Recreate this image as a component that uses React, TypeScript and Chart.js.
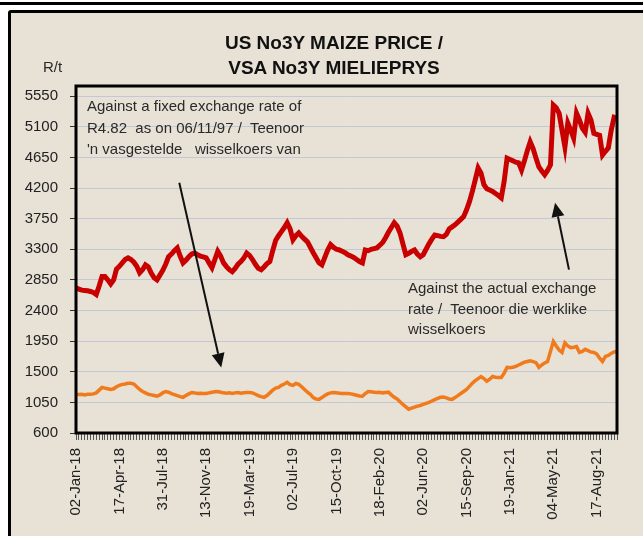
import React, { useEffect, useRef } from "react";
import { Chart, registerables } from "chart.js";

Chart.register(...registerables);

// ---- Data (weekly) ----
const TICK_LABELS = [
  "02-Jan-18", "17-Apr-18", "31-Jul-18", "13-Nov-18", "19-Mar-19", "02-Jul-19",
  "15-Oct-19", "18-Feb-20", "02-Jun-20", "15-Sep-20", "19-Jan-21", "04-May-21", "17-Aug-21",
];
const LABEL_EVERY = 15;

// Against the actual exchange rate (R/t)
const ACTUAL_RATE = [
  2737, 2715, 2700, 2695, 2690, 2680, 2665, 2635, 2760, 2900,
  2900, 2850, 2790, 2850, 3010, 3050, 3100, 3150, 3175, 3150,
  3110, 3050, 2955, 3000, 3070, 3040, 2950, 2880, 2850, 2920,
  2990, 3080, 3190, 3230, 3280, 3320, 3200, 3100, 3140, 3190,
  3230, 3245, 3220, 3200, 3190, 3175, 3100, 3030, 3150, 3270,
  3200, 3100, 3045, 3000, 2970, 3020, 3080, 3120, 3170, 3245,
  3210, 3150, 3080, 3020, 3000, 3040, 3090, 3120, 3280, 3430,
  3500, 3560, 3620, 3690, 3600, 3440, 3500, 3540, 3490, 3450,
  3410, 3330, 3250, 3175, 3100, 3070, 3180, 3290, 3370, 3330,
  3300, 3290, 3270, 3250, 3220, 3200, 3180, 3150, 3120, 3100,
  3290, 3280, 3300, 3310, 3320, 3360, 3400, 3470, 3550, 3620,
  3690, 3640, 3540, 3380, 3220, 3240, 3270, 3290, 3230, 3190,
  3220, 3300, 3380, 3450, 3510, 3500, 3490, 3485, 3520, 3600,
  3630, 3660, 3700, 3740, 3780, 3880, 4000, 4150, 4320, 4495,
  4420, 4250, 4190, 4170, 4150, 4120, 4090, 4055, 4300, 4640,
  4620, 4600, 4580, 4570, 4465, 4600, 4750, 4880, 4780, 4640,
  4510, 4450, 4395, 4460, 4540, 5420, 5380, 5300, 5050, 4805,
  5155, 5050, 4935, 5300, 5200, 5080, 5020, 5300, 5200, 5005,
  4990, 4975, 4685, 4740, 4790, 5050, 5240, 5225,
];

// Against a fixed exchange rate of R4.82 (R/t)
const FIXED_RATE = [
  1168, 1165, 1170, 1160, 1170, 1168, 1175, 1190, 1230, 1270,
  1260, 1250, 1240, 1250, 1280, 1300, 1315, 1320, 1330, 1330,
  1320, 1280, 1240, 1210, 1190, 1170, 1160, 1150, 1140, 1160,
  1190, 1210, 1200, 1180, 1165, 1150, 1135, 1125, 1150, 1175,
  1195, 1190, 1180, 1185, 1180, 1180, 1190, 1200, 1205, 1210,
  1200, 1190, 1185, 1190, 1180, 1190, 1195, 1185, 1190, 1195,
  1195, 1190, 1170, 1150, 1135, 1125, 1150, 1190, 1230, 1260,
  1270, 1300, 1320, 1345, 1310, 1300, 1330, 1315, 1280, 1240,
  1200, 1168, 1120, 1100, 1095, 1120, 1150, 1175, 1190, 1195,
  1190, 1185, 1180, 1180, 1180, 1175, 1165, 1155, 1145, 1140,
  1180, 1210, 1205, 1200, 1195, 1200, 1190, 1195, 1200, 1160,
  1125, 1100, 1060, 1020, 985, 950, 965, 980, 995, 1005,
  1020, 1035, 1050, 1070, 1090, 1110, 1125, 1130, 1115, 1100,
  1095, 1120, 1150, 1180, 1210, 1240, 1285, 1330, 1370, 1400,
  1430, 1400, 1360, 1390, 1430, 1420, 1415, 1415, 1480, 1565,
  1560, 1565, 1580, 1600, 1620, 1640, 1650, 1660, 1650, 1635,
  1565, 1600, 1630, 1650, 1800, 1945, 1880, 1820, 1785, 1925,
  1880, 1855, 1860, 1870, 1785, 1800, 1830, 1810, 1790, 1785,
  1760, 1700, 1650, 1725, 1740, 1770, 1790, 1800,
];

const Y_TICKS = [600, 1050, 1500, 1950, 2400, 2850, 3300, 3750, 4200, 4650, 5100, 5550];
const Y_MIN = 600;
const Y_MAX = 5700;

// Arrows in data space: [categoryIndex, value]
const ARROW_FIXED_FROM = [35.7, 4278];
const ARROW_FIXED_TO = [50.2, 1564];
const ARROW_ACTUAL_FROM = [170.4, 3001];
const ARROW_ACTUAL_TO = [165.6, 3984];

const CATEGORIES = ACTUAL_RATE.map((_, i) =>
  i % LABEL_EVERY === 0 && TICK_LABELS[i / LABEL_EVERY] ? TICK_LABELS[i / LABEL_EVERY] : ""
);

const FONT = "'Liberation Sans', Arial, sans-serif";
const BEIGE = "#e7e1d6";

export default function App() {
  const canvasRef = useRef<HTMLCanvasElement | null>(null);

  useEffect(() => {
    document.body.style.margin = "0";
    const canvas = canvasRef.current;
    if (!canvas) return;

    const framePlugin = {
      id: "frame",
      afterDatasetsDraw(chart: any) {
        const { ctx, chartArea } = chart;
        ctx.save();
        ctx.strokeStyle = "#000";
        ctx.lineWidth = 3;
        ctx.strokeRect(chartArea.left, chartArea.top, chartArea.right - chartArea.left, chartArea.bottom - chartArea.top);
        ctx.restore();
      },
    };

    const drawArrow = (chart: any, from: number[], to: number[]) => {
      const { ctx } = chart;
      const xs = chart.scales.x;
      const ys = chart.scales.y;
      const x1 = xs.getPixelForValue(from[0]);
      const y1 = ys.getPixelForValue(from[1]);
      const x2 = xs.getPixelForValue(to[0]);
      const y2 = ys.getPixelForValue(to[1]);
      const ang = Math.atan2(y2 - y1, x2 - x1);
      const headLen = 14;
      const headHalf = 6.5;
      const bx = x2 - headLen * Math.cos(ang);
      const by = y2 - headLen * Math.sin(ang);
      ctx.save();
      ctx.strokeStyle = "#111";
      ctx.fillStyle = "#111";
      ctx.lineWidth = 2;
      ctx.beginPath();
      ctx.moveTo(x1, y1);
      ctx.lineTo(bx, by);
      ctx.stroke();
      ctx.beginPath();
      ctx.moveTo(x2, y2);
      ctx.lineTo(bx + headHalf * Math.sin(ang), by - headHalf * Math.cos(ang));
      ctx.lineTo(bx - headHalf * Math.sin(ang), by + headHalf * Math.cos(ang));
      ctx.closePath();
      ctx.fill();
      ctx.restore();
    };

    const arrowPlugin = {
      id: "arrows",
      afterDraw(chart: any) {
        drawArrow(chart, ARROW_FIXED_FROM, ARROW_FIXED_TO);
        drawArrow(chart, ARROW_ACTUAL_FROM, ARROW_ACTUAL_TO);
      },
    };

    const chart = new Chart(canvas, {
      type: "line",
      data: {
        labels: CATEGORIES,
        datasets: [
          {
            label: "Against the actual exchange rate",
            data: ACTUAL_RATE,
            borderColor: "#c90000",
            borderWidth: 5,
            pointRadius: 0,
            tension: 0,
            fill: false,
          },
          {
            label: "Against a fixed exchange rate",
            data: FIXED_RATE,
            borderColor: "#f07a1c",
            borderWidth: 3.5,
            pointRadius: 0,
            tension: 0,
            fill: false,
          },
        ],
      },
      options: {
        animation: false,
        responsive: false,
        maintainAspectRatio: false,
        events: [],
        layout: { padding: { top: 86, right: 21, left: 0, bottom: 0 } },
        plugins: {
          legend: { display: false },
          tooltip: { enabled: false },
          title: { display: false },
        },
        scales: {
          x: {
            type: "category",
            offset: false,
            grid: {
              drawOnChartArea: false,
              drawTicks: true,
              tickLength: 7,
              color: "#555",
              lineWidth: 1,
            },
            border: { display: false },
            ticks: {
              autoSkip: false,
              maxRotation: 90,
              minRotation: 90,
              padding: 8,
              color: "#222",
              font: { family: FONT, size: 15 },
            },
            afterFit: (s: any) => {
              s.height = 103;
            },
          },
          y: {
            min: Y_MIN,
            max: Y_MAX,
            afterBuildTicks: (s: any) => {
              s.ticks = Y_TICKS.map((v) => ({ value: v }));
            },
            grid: {
              color: "#c4c7d4",
              lineWidth: 1,
              tickColor: "#333",
              tickLength: 6,
            },
            border: { display: false },
            ticks: {
              padding: 12,
              color: "#222",
              font: { family: FONT, size: 15 },
              callback: (v: any) => String(v),
            },
            afterFit: (s: any) => {
              s.width = 76;
            },
          },
        },
      },
      plugins: [framePlugin, arrowPlugin],
    } as any);

    return () => chart.destroy();
  }, []);

  const textBase: React.CSSProperties = {
    position: "absolute",
    fontFamily: FONT,
    color: "#2a2a2a",
    whiteSpace: "pre",
  };

  return (
    <div
      style={{
        position: "fixed",
        left: 0,
        top: 0,
        width: 643,
        height: 536,
        overflow: "hidden",
        background: "#ffffff",
      }}
    >
      <div style={{ position: "absolute", left: 0, top: 2, width: 643, height: 3, background: "#000" }} />
      <div
        style={{
          position: "absolute",
          left: 8,
          top: 10,
          width: 700,
          height: 600,
          background: BEIGE,
          border: "3px solid #000",
          borderTopLeftRadius: 3,
        }}
      />
      <canvas
        ref={canvasRef}
        width={643}
        height={536}
        style={{ position: "absolute", left: 0, top: 0, width: 643, height: 536 }}
      />
      <div
        style={{
          ...textBase,
          left: 134,
          top: 30,
          width: 400,
          textAlign: "center",
          fontSize: 19,
          fontWeight: "bold",
          lineHeight: "25px",
          color: "#111",
        }}
      >
        {"US No3Y MAIZE PRICE /\nVSA No3Y MIELIEPRYS"}
      </div>
      <div style={{ ...textBase, left: 43, top: 57, fontSize: 15, lineHeight: "20px" }}>R/t</div>
      <div style={{ ...textBase, left: 87, top: 95, fontSize: 15, lineHeight: "21.5px" }}>
        {"Against a fixed exchange rate of\nR4.82  as on 06/11/97 /  Teenoor\n'n vasgestelde   wisselkoers van"}
      </div>
      <div style={{ ...textBase, left: 408, top: 278, fontSize: 15, lineHeight: "20.5px" }}>
        {"Against the actual exchange\nrate /  Teenoor die werklike\nwisselkoers"}
      </div>
    </div>
  );
}
